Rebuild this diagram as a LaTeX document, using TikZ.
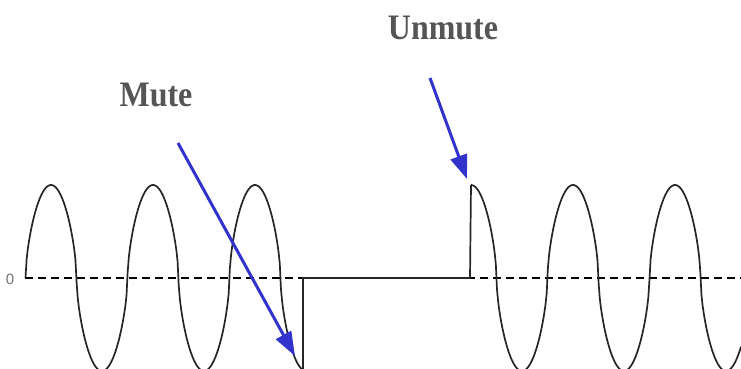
\documentclass[tikz,border=0pt]{standalone}
\usepackage{fontspec}
\setmainfont{Liberation Serif}
\newfontfamily\zerofont{Liberation Sans}
\usetikzlibrary{arrows.meta}
\definecolor{pointerblue}{RGB}{50,50,205}
\definecolor{captiongray}{RGB}{85,85,85}

\begin{document}
\begin{tikzpicture}[x=1pt, y=-1pt, >={Triangle[length=24pt, width=17pt]},
    declare function={lobe(\t)=(sin(\t)>=0 ? 1 : -1)*pow(abs(sin(\t))+0.0001,0.6);},
    wave/.style={line width=1.7pt, black!85},
    zeroline/.style={line width=1.6pt, dash pattern=on 8pt off 5pt},
    pointer/.style={->, line width=3pt, pointerblue},
    caption/.style={text=captiongray, inner sep=0pt, font=\fontsize{32}{32}\selectfont\bfseries}]
        \useasboundingbox (0,0) rectangle (741,369);
        \clip (0,0) rectangle (741,369);

        % zero axis
        \draw[zeroline] (25,278) -- (741,278);
        \node (zero) [text=black!55, font=\zerofont\fontsize{15}{15}\selectfont] at (10,279) {0};

        % signal before mute
        \draw[wave] plot[domain=25.5:303, samples=240] (\x, {278 - 93*lobe((\x-25.5)/51*180)})
            -- (303,278) -- (470,278) -- (471,185);
        % signal after unmute
        \draw[wave] plot[domain=471:741, samples=240] (\x, {278 - 93*lobe((\x-471)/51*180+90)});

        % labels
        \node (mute) [caption] at (156,95) {\scalebox{1}[1.12]{Mute}};
        \node (unmute) [caption] at (443,28) {\scalebox{1}[1.12]{Unmute}};

        \coordinate (mutefrom) at (178,143);
        \coordinate (muteto) at (295,356);
        \coordinate (unmutefrom) at (430,78);
        \coordinate (unmuteto) at (467,179);

        \draw[pointer] (mutefrom) -- (muteto);
        \draw[pointer] (unmutefrom) -- (unmuteto);
    \end{tikzpicture}
\end{document}
